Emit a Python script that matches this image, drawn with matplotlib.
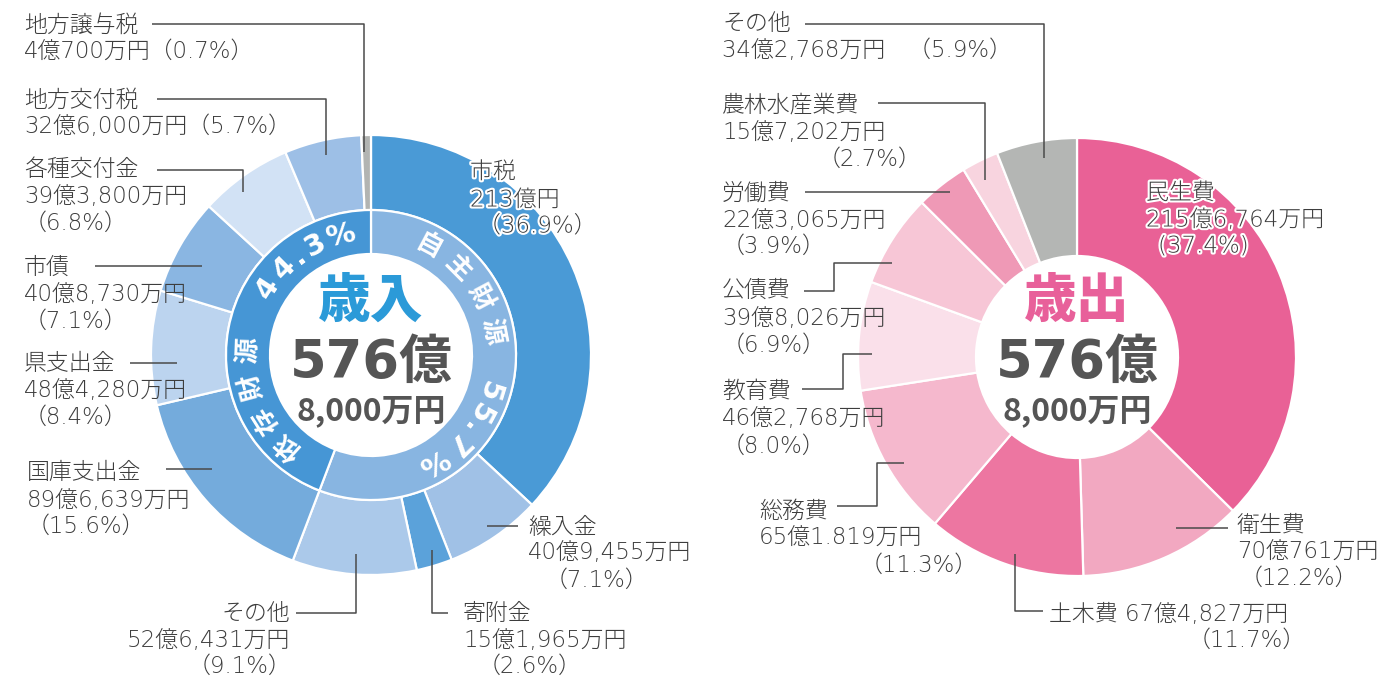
import matplotlib
matplotlib.use("Agg")
import matplotlib.pyplot as plt
import matplotlib.patheffects as pe
import math

plt.rcParams['font.family'] = ['Noto Sans CJK JP', 'DejaVu Sans']

# ---------------- data ----------------
rev_names = ["市税", "繰入金", "寄附金", "その他", "国庫支出金", "県支出金",
             "市債", "各種交付金", "地方交付税", "地方譲与税"]
rev_values = [2130000, 409455, 151965, 526431, 896639, 484280,
              408730, 393800, 326000, 40700]  # 万円
rev_amount_text = ["213億円", "40億9,455万円", "15億1,965万円", "52億6,431万円",
                   "89億6,639万円", "48億4,280万円", "40億8,730万円",
                   "39億3,800万円", "32億6,000万円", "4億700万円"]
rev_pct_text = ["（36.9%）", "（7.1%）", "（2.6%）", "（9.1%）", "（15.6%）",
                "（8.4%）", "（7.1%）", "（6.8%）", "（5.7%）", "（0.7%）"]
rev_colors = ["#4a9ad6", "#a0c1e6", "#5ba2da", "#abc9ea", "#74abdc",
              "#bcd4ef", "#8ab6e2", "#d2e2f5", "#9dbfe6", "#b2b4b2"]

src_names = ["自主財源", "依存財源"]
src_pct = ["55.7%", "44.3%"]
src_groups = [4, 6]  # number of revenue items in each group
src_colors = ["#88b5e1", "#4696d5"]

exp_names = ["民生費", "衛生費", "土木費", "総務費", "教育費", "公債費",
             "労働費", "農林水産業費", "その他"]
exp_values = [2156764, 700761, 674827, 651819, 462768, 398026,
              223065, 157202, 342768]  # 万円
exp_amount_text = ["215億6,764万円", "70億761万円", "67億4,827万円", "65億1.819万円",
                   "46億2,768万円", "39億8,026万円", "22億3,065万円",
                   "15億7,202万円", "34億2,768万円"]
exp_pct_text = ["(37.4%)", "（12.2%）", "（11.7%）", "（11.3%）", "（8.0%）",
                "（6.9%）", "（3.9%）", "（2.7%）", "（5.9%）"]
exp_colors = ["#e96196", "#f2a8c1", "#ed76a1", "#f5b8cd", "#fae0ea",
              "#f7c6d6", "#ef99b6", "#f8d4df", "#b4b6b4"]

total_text = ["576億", "8,000万円"]

# ---------------- figure ----------------
W, H = 1389, 679
fig = plt.figure(figsize=(W / 100, H / 100), dpi=100)
ax = fig.add_axes([0, 0, 1, 1])

def Y(y):
    return H - y

TXT = "#3d3d3d"
LINE = "#4a4a4a"
FS = 16.5
LABEL_FAM = ['DejaVu Sans', 'Noto Sans CJK JP']
BOLD_FAM = ['DejaVu Sans', 'Noto Sans CJK JP']
wp = dict(edgecolor="white", linewidth=1.6)

# left donut
cL = (371, Y(355))
ax.pie(rev_values, colors=rev_colors, startangle=90, counterclock=False,
       radius=220, center=cL, wedgeprops=dict(width=75, **wp), frame=True)
grp_vals = [sum(rev_values[:src_groups[0]]), sum(rev_values[src_groups[0]:])]
ax.pie(grp_vals, colors=src_colors, startangle=90, counterclock=False,
       radius=145, center=cL, wedgeprops=dict(width=44, **wp), frame=True)

# right donut
cR = (1077, Y(357))
ax.pie(exp_values, colors=exp_colors, startangle=90, counterclock=False,
       radius=219, center=cR, wedgeprops=dict(width=118, **wp), frame=True)

ax.set_xlim(0, W)
ax.set_ylim(0, H)
ax.set_aspect("equal")
ax.axis("off")

# ---- inner ring texts ----
def arc_chars(chars, angles, r=123, size=18, fam=None):
    for ch, a in zip(chars, angles):
        x = cL[0] + r * math.cos(math.radians(a))
        y = cL[1] + r * math.sin(math.radians(a))
        ax.text(x, y, ch, rotation=a - 90, rotation_mode="anchor",
                ha="center", va="center", color="white", fontsize=size,
                fontweight="bold", family=fam or ['Noto Sans CJK JP', 'DejaVu Sans'])

arc_chars(list(src_names[0]), [62, 45, 28, 11], size=19)
arc_chars(list(src_pct[0]), [-17, -28, -37, -46, -60], size=21, fam=BOLD_FAM)
arc_chars(list(src_pct[1]), [147, 135, 126, 117, 104], size=21, fam=BOLD_FAM)
arc_chars(list(src_names[1]), [228, 212, 195, 178], size=19)

# ---- centre texts ----
for cx, title, tcol in [(371, "歳入", "#2b9ad8"), (1077, "歳出", "#e8609a")]:
    ax.text(cx, Y(301), title, ha="center", va="center", fontsize=38,
            fontweight="heavy", color=tcol)
    ax.text(cx, Y(363), total_text[0], ha="center", va="center", fontsize=38,
            fontweight="bold", color="#555555", family=BOLD_FAM)
    ax.text(cx, Y(411), total_text[1], ha="center", va="center", fontsize=23,
            fontweight="bold", color="#555555")

def lab(x, y, s, ha="left", stroke=False):
    t = ax.text(x, Y(y), s, ha=ha, va="center", fontsize=FS, color=TXT,
                fontweight="light", family=LABEL_FAM)
    if stroke:
        t.set_path_effects([pe.withStroke(linewidth=3, foreground="white")])

def line(pts):
    xs = [p[0] for p in pts]
    ys = [Y(p[1]) for p in pts]
    ax.plot(xs, ys, color=LINE, linewidth=1.1, solid_capstyle="butt")

# ---- revenue labels ----
# 市税 (inside)
lab(470, 172, rev_names[0], stroke=True)
lab(470, 200, rev_amount_text[0], stroke=True)
lab(478, 226, rev_pct_text[0], stroke=True)
# 繰入金
lab(528, 527, rev_names[1]); lab(528, 553, rev_amount_text[1]); lab(545, 580, rev_pct_text[1])
line([(487, 526), (518, 526)])
# 寄附金
lab(463, 613, rev_names[2]); lab(463, 640, rev_amount_text[2]); lab(478, 666, rev_pct_text[2])
line([(432, 550), (432, 613), (448, 613)])
# その他
lab(290, 613, rev_names[3], ha="right"); lab(290, 640, rev_amount_text[3], ha="right")
lab(292, 666, rev_pct_text[3], ha="right")
line([(296, 613), (356, 613), (356, 554)])
# 国庫支出金
lab(27, 472, rev_names[4]); lab(27, 500, rev_amount_text[4]); lab(27, 526, rev_pct_text[4])
line([(166, 469), (212, 469)])
# 県支出金
lab(24, 363, rev_names[5]); lab(24, 390, rev_amount_text[5]); lab(24, 417, rev_pct_text[5])
line([(130, 363), (177, 363)])
# 市債
lab(24, 267, rev_names[6]); lab(24, 294, rev_amount_text[6]); lab(24, 321, rev_pct_text[6])
line([(95, 266), (202, 266)])
# 各種交付金
lab(24, 170, rev_names[7]); lab(24, 197, rev_amount_text[7]); lab(24, 223, rev_pct_text[7])
line([(157, 170), (243, 170), (243, 192)])
# 地方交付税
lab(24, 100, rev_names[8]); lab(24, 126, rev_amount_text[8] + rev_pct_text[8])
line([(157, 99), (326, 99), (326, 155)])
# 地方譲与税
lab(24, 25, rev_names[9]); lab(24, 51, rev_amount_text[9] + rev_pct_text[9])
line([(152, 24), (364, 24), (364, 152)])

# ---- expenditure labels ----
# 民生費 (inside)
lab(1146, 193, exp_names[0], stroke=True)
lab(1146, 220, exp_amount_text[0], stroke=True)
lab(1158, 246, exp_pct_text[0], stroke=True)
# 衛生費
lab(1237, 525, exp_names[1]); lab(1237, 552, exp_amount_text[1]); lab(1240, 578, exp_pct_text[1])
line([(1176, 528), (1228, 528)])
# 土木費
lab(1049, 614, exp_names[2] + " " + exp_amount_text[2]); lab(1188, 640, exp_pct_text[2])
line([(1015, 554), (1015, 611), (1043, 611)])
# 総務費
lab(759, 511, exp_names[3]); lab(759, 538, exp_amount_text[3]); lab(860, 565, exp_pct_text[3])
line([(837, 506), (877, 506), (877, 463), (904, 463)])
# 教育費
lab(722, 391, exp_names[4]); lab(722, 419, exp_amount_text[4]); lab(722, 446, exp_pct_text[4])
line([(802, 389), (843, 389), (843, 354), (872, 354)])
# 公債費
lab(722, 290, exp_names[5]); lab(722, 318, exp_amount_text[5]); lab(722, 345, exp_pct_text[5])
line([(804, 291), (834, 291), (834, 263), (892, 263)])
# 労働費
lab(722, 193, exp_names[6]); lab(722, 220, exp_amount_text[6]); lab(722, 246, exp_pct_text[6])
line([(805, 192), (950, 192)])
# 農林水産業費
lab(722, 105, exp_names[7]); lab(722, 132, exp_amount_text[7]); lab(818, 159, exp_pct_text[7])
line([(878, 103), (985, 103), (985, 180)])
# その他
lab(722, 24, exp_names[8]); lab(722, 50, exp_amount_text[8] + "　" + exp_pct_text[8])
line([(805, 24), (1044, 24), (1044, 158)])

fig.savefig("out.png", dpi=100, facecolor="white")
